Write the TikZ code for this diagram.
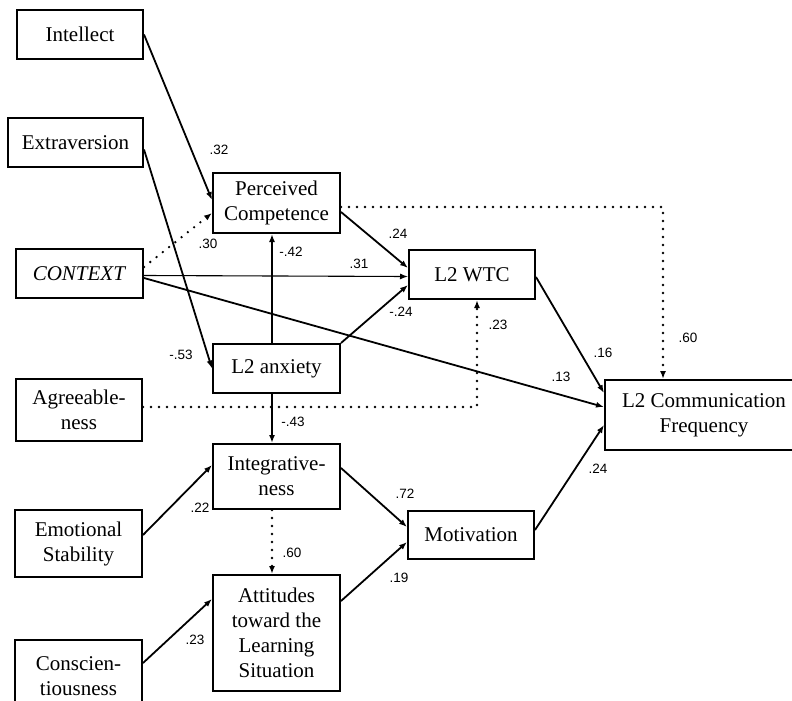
\documentclass[tikz,border=0pt]{standalone}
\usepackage{fontspec}
\setmainfont{Liberation Serif}
\newfontfamily\labelfont{Liberation Sans}
\usetikzlibrary{arrows.meta,calc}
\begin{document}
\begin{tikzpicture}[x=1pt,y=-1pt,
 box/.style={draw,line width=2pt,align=center,inner sep=0pt,font=\fontsize{21}{25}\selectfont},
 arr/.style={line width=1.8pt,-{Latex[length=8pt,width=6pt]}},
 thinarr/.style={line width=1.1pt,-{Latex[length=8pt,width=6pt]}},
 dots/.style={line width=2.6pt,line cap=round,dash pattern=on 0pt off 8pt,-{Latex[length=8pt,width=6pt]}},
 coef/.style={font=\labelfont\fontsize{13.5}{14}\selectfont,inner sep=0pt}]
\useasboundingbox (0,0) rectangle (792,701);
% boxes
\node[box,minimum width=126pt,minimum height=49pt] (intellect) at (80,34.5) {Intellect};
\node[box,minimum width=135pt,minimum height=49pt] (extra) at (75.5,142.5) {Extraversion};
\node[box,minimum width=127pt,minimum height=49pt] (context) at (79.5,273.5) {\textit{CONTEXT}};
\node[box,minimum width=126pt,minimum height=62pt] (agree) at (79,410) {Agreeable-\\ness};
\node[box,minimum width=127pt,minimum height=67pt] (emo) at (78.5,543.5) {Emotional\\Stability};
\node[box,minimum width=127pt,minimum height=72pt] (consc) at (78.5,676) {Conscien-\\tiousness};
\node[box,minimum width=127pt,minimum height=60pt] (pc) at (276.5,203) {Perceived\\Competence};
\node[box,minimum width=127pt,minimum height=49pt] (anx) at (276.5,368.5) {L2 anxiety};
\node[box,minimum width=127pt,minimum height=65pt] (integ) at (276.5,476.5) {Integrative-\\ness};
\node[box,minimum width=127pt,minimum height=116pt] (att) at (276.5,633) {Attitudes\\toward the\\Learning\\Situation};
\node[box,minimum width=126pt,minimum height=49pt] (wtc) at (472,274.5) {L2 WTC};
\node[box,minimum width=126pt,minimum height=48pt] (motiv) at (471,535) {Motivation};
\node[box,minimum width=198pt,minimum height=70pt] (comm) at (704,415) {L2 Communication\\Frequency};
% helper coordinates
\coordinate (pcout) at ([yshift=-4pt]pc.east);
\coordinate (commin) at ([xshift=-41pt]comm.north);
\coordinate (pccorner) at (commin |- pcout);
\coordinate (agout) at ([yshift=3pt]agree.east);
\coordinate (wtcin) at ([xshift=5pt]wtc.south);
\coordinate (agcorner) at (wtcin |- agout);
% connectors
\draw[arr] (intellect.east) -- ([yshift=3pt]pc.west);
\draw[arr] ([yshift=-7pt]extra.east) -- (anx.west);
\draw[dots] ([yshift=6.5pt]context.east) -- ([yshift=-10pt]pc.west);
\draw[thinarr] ([yshift=-2pt]context.east) -- ([yshift=-2pt]wtc.west);
\draw[arr] ([yshift=-4.5pt]context.east) -- ([yshift=8pt]comm.west);
\draw[arr] ([xshift=-4.5pt]anx.north) -- ([xshift=-4.5pt]pc.south);
\draw[arr] (anx.north east) -- ([yshift=-10.5pt]wtc.west);
\draw[arr] ([yshift=-9pt]pc.east) -- ([yshift=6.5pt]wtc.west);
\draw[dots] (pcout) -- (pccorner) -- (commin);
\draw[dots] (agout) -- (agcorner) -- (wtcin);
\draw[arr] ([yshift=-2.5pt]wtc.east) -- ([yshift=22pt]comm.west);
\draw[arr] ([xshift=-4.5pt]anx.south) -- ([xshift=-4.5pt]integ.north);
\draw[arr] ([yshift=8.5pt]emo.east) -- ([yshift=11.5pt]integ.west);
\draw[dots] ([xshift=-4.5pt]integ.south) -- ([xshift=-4.5pt]att.north);
\draw[arr] ([yshift=13pt]consc.east) -- ([yshift=34pt]att.west);
\draw[arr] ([yshift=8.5pt]integ.east) -- ([yshift=8pt]motiv.west);
\draw[arr] ([yshift=32pt]att.east) -- ([yshift=-7pt]motiv.west);
\draw[arr] ([yshift=5pt]motiv.east) -- ([yshift=-10pt]comm.west);
% coefficients
\node[coef] (c1) at (219,150) {.32};
\node[coef] (c2) at (208,244) {.30};
\node[coef] (c3) at (181,355) {-.53};
\node[coef] (c4) at (359,264) {.31};
\node[coef] (c5) at (291,252) {-.42};
\node[coef] (c6) at (398,234) {.24};
\node[coef] (c7) at (401,312) {-.24};
\node[coef] (c8) at (498,325) {.23};
\node[coef] (c9) at (561,377) {.13};
\node[coef] (c10) at (603,353) {.16};
\node[coef] (c11) at (688,338) {.60};
\node[coef] (c12) at (293,422) {-.43};
\node[coef] (c13) at (200,508) {.22};
\node[coef] (c14) at (292,553) {.60};
\node[coef] (c15) at (195,640) {.23};
\node[coef] (c16) at (405,494) {.72};
\node[coef] (c17) at (399,578) {.19};
\node[coef] (c18) at (598,469) {.24};
\end{tikzpicture}
\end{document}
